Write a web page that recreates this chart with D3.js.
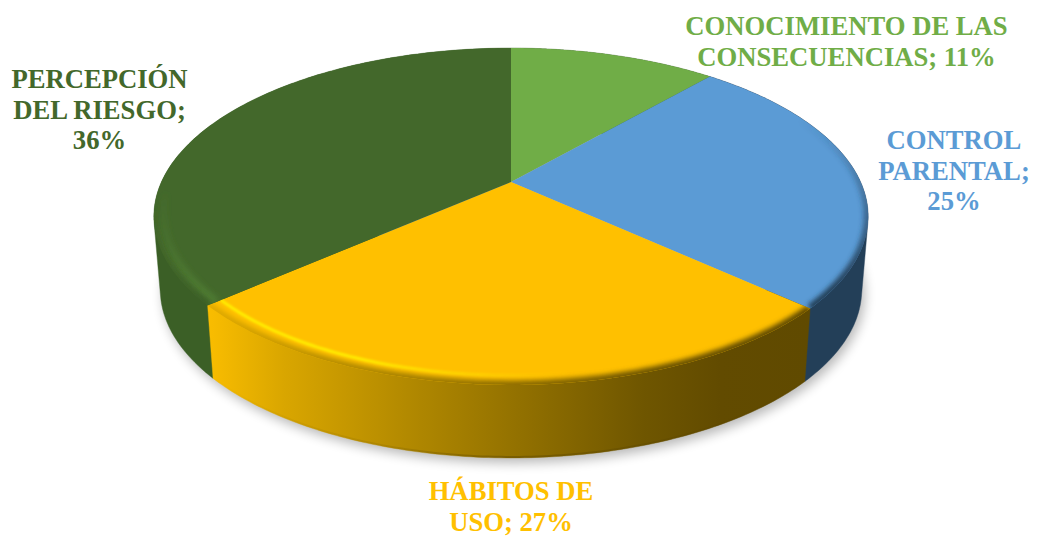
<!DOCTYPE html>
<html><head><meta charset="utf-8">
<script src="https://cdn.jsdelivr.net/npm/d3@7/dist/d3.min.js"></script>
<style>html,body{margin:0;background:#fff}svg{display:block}</style></head>
<body><svg width="1040" height="536"></svg>
<script>
const categories = ["CONOCIMIENTO DE LAS CONSECUENCIAS","CONTROL PARENTAL","HÁBITOS DE USO","PERCEPCIÓN DEL RIESGO"];
const values = [11.4,25.4,26.7,36.49];
const colors = ["#70ad47","#5b9bd5","#ffc000","#43682b"];
const labelLines = [
  ["CONOCIMIENTO DE LAS","CONSECUENCIAS; 11%"],
  ["CONTROL","PARENTAL;","25%"],
  ["HÁBITOS DE","USO; 27%"],
  ["PERCEPCIÓN","DEL RIESGO;","36%"]];
const labelAnchors = [[846.5,35],[954,149],[511,500],[99.5,88]];

const W=1040,H=536, apex=[511,182], A=349.6, B=161.4, K=0.2047, DEPTH=73, SHRINK=0.982, INSET=0.962;
const svg=d3.select("svg").attr("viewBox",[0,0,W,H]);
const sx=d3.scaleLinear().domain([-1,1]).range([apex[0]-A,apex[0]+A]);
const sy=d3.scaleLinear().domain([-1,1]).range([apex[1]+B,apex[1]-B]);
function proj(t,r=1,z=0){
  const c=Math.cos(t)*r,s=Math.sin(t)*r,w=1+K*c;
  const x=sx(s/w),y=sy(c/w);
  return z? [apex[0]+(x-apex[0])*SHRINK,y+z]:[x,y];
}
const pie=d3.pie().sort(null).value(d=>d)(values);
const arcPts=(a,b,z=0,r=1)=>d3.range(0,121).map(i=>proj(a+(b-a)*i/120,r,z));
const line=d3.line();
const defs=svg.append("defs");
const blur=(id,s)=>defs.append("filter").attr("id",id).attr("filterUnits","userSpaceOnUse").attr("x",0).attr("y",0).attr("width",W).attr("height",H).append("feGaussianBlur").attr("stdDeviation",s);
blur("sh",6);blur("b",2.6);blur("h",1.2);blur("g",3);
function grad(id,stops,x1,x2,y1=0,y2=0){
  const g=defs.append("linearGradient").attr("id",id).attr("gradientUnits","userSpaceOnUse").attr("x1",x1).attr("x2",x2).attr("y1",y1).attr("y2",y2);
  stops.forEach(([o,c,a=1])=>g.append("stop").attr("offset",o).attr("stop-color",c).attr("stop-opacity",a));
}
grad("wall2",[[0,"#f8bc00"],[.12,"#d9a600"],[.35,"#ae8600"],[.55,"#8c6c00"],[.72,"#6f5600"],[.85,"#624b00"],[1,"#604a00"]],212,810);
const wallFill=["#3f6a28","#233f58","url(#wall2)","#3b5f26"];
grad("band1",[[0,"#233f58",0],[.35,"#233f58",.35],[1,"#233f58",1]],0,0,120,290);
grad("band2",[[0,"#e0aa00"],[.2,"#b88e00"],[.5,"#8c6c00"],[.75,"#6a5200"],[1,"#604a00"]],212,810);
grad("band3",[[0,"#3b5f26",0],[.6,"#3b5f26",.3],[1,"#3b5f26",.9]],0,0,200,305);
grad("hi2",[[0,"#fff000",.95],[.25,"#ffee00",.95],[.45,"#ffe000",.5],[.6,"#ffd000",0],[1,"#ffd000",0]],212,810);
grad("hi3",[[0,"#578a38",0],[.5,"#578a38",.35],[1,"#578a38",.8]],0,0,190,300);
grad("foot",[[0,"#5a4500",0],[.3,"#5a4500",.15],[.5,"#5a4500",.45],[1,"#5a4500",.2]],212,810);

// drop shadow under the disc
svg.append("path").attr("d",line(arcPts(0,2*Math.PI,DEPTH))+"Z")
  .attr("fill","#000").attr("opacity",.28).attr("filter","url(#sh)").attr("transform","translate(3,5)");

// outer walls: convex hull so the side silhouette runs straight from the rim to the base; front slice on top
const wallPts=d=>[...arcPts(d.startAngle,d.endAngle),...arcPts(d.startAngle,d.endAngle,DEPTH)];
svg.selectAll("path.wall").data([pie[0],pie[3],pie[1],pie[2]]).join("path").attr("class","wall")
  .attr("d",d=>line(d3.polygonHull(wallPts(d)))+"Z")
  .attr("fill",d=>wallFill[d.index]).attr("stroke",d=>wallFill[d.index]).attr("stroke-width",.4);
// darker foot along the base of the front slice
svg.append("path").datum(pie[2]).attr("d",d=>line(arcPts(d.startAngle,d.endAngle,DEPTH-1)))
  .attr("fill","none").attr("stroke","url(#foot)").attr("stroke-width",2);

// top faces with a soft bevel along the rim
const sliceD=d=>line([proj(0,0),...arcPts(d.startAngle,d.endAngle)])+"Z";
pie.forEach((d,i)=>defs.append("clipPath").attr("id","c"+i).append("path").attr("d",sliceD(d)));
svg.selectAll("path.top").data(pie).join("path").attr("class","top").attr("d",sliceD).attr("fill",(d,i)=>colors[i]);
const bevel=svg.selectAll("g.bev").data(pie).join("g").attr("class","bev").attr("clip-path",(d,i)=>`url(#c${i})`);
bevel.filter((d,i)=>i===3).append("path").attr("d",d=>line(arcPts(d.startAngle,d.endAngle,0,0.975)))
  .attr("fill","none").attr("stroke","url(#hi3)").attr("stroke-width",6).attr("filter","url(#g)");
bevel.filter((d,i)=>i>0).append("path").attr("d",d=>line(arcPts(d.startAngle,d.endAngle)))
  .attr("fill","none").attr("stroke",d=>`url(#band${d.index})`).attr("stroke-width",9).attr("filter","url(#b)");
bevel.filter((d,i)=>i===2).append("path").attr("d",d=>line(arcPts(d.startAngle,d.endAngle,0,INSET)))
  .attr("fill","none").attr("stroke","url(#hi2)").attr("stroke-width",3).attr("filter","url(#h)");

svg.selectAll("text.lab").data(labelLines).join("text").attr("class","lab")
  .attr("font-family","'Liberation Serif'").attr("font-weight","bold").attr("font-size",26.67)
  .attr("text-anchor","middle").attr("fill",(d,i)=>colors[i])
  .each(function(lines,i){
    d3.select(this).selectAll("tspan").data(lines).join("tspan")
      .attr("x",labelAnchors[i][0]).attr("y",(l,j)=>labelAnchors[i][1]+j*30.7).text(l=>l);
  });
</script></body></html>
